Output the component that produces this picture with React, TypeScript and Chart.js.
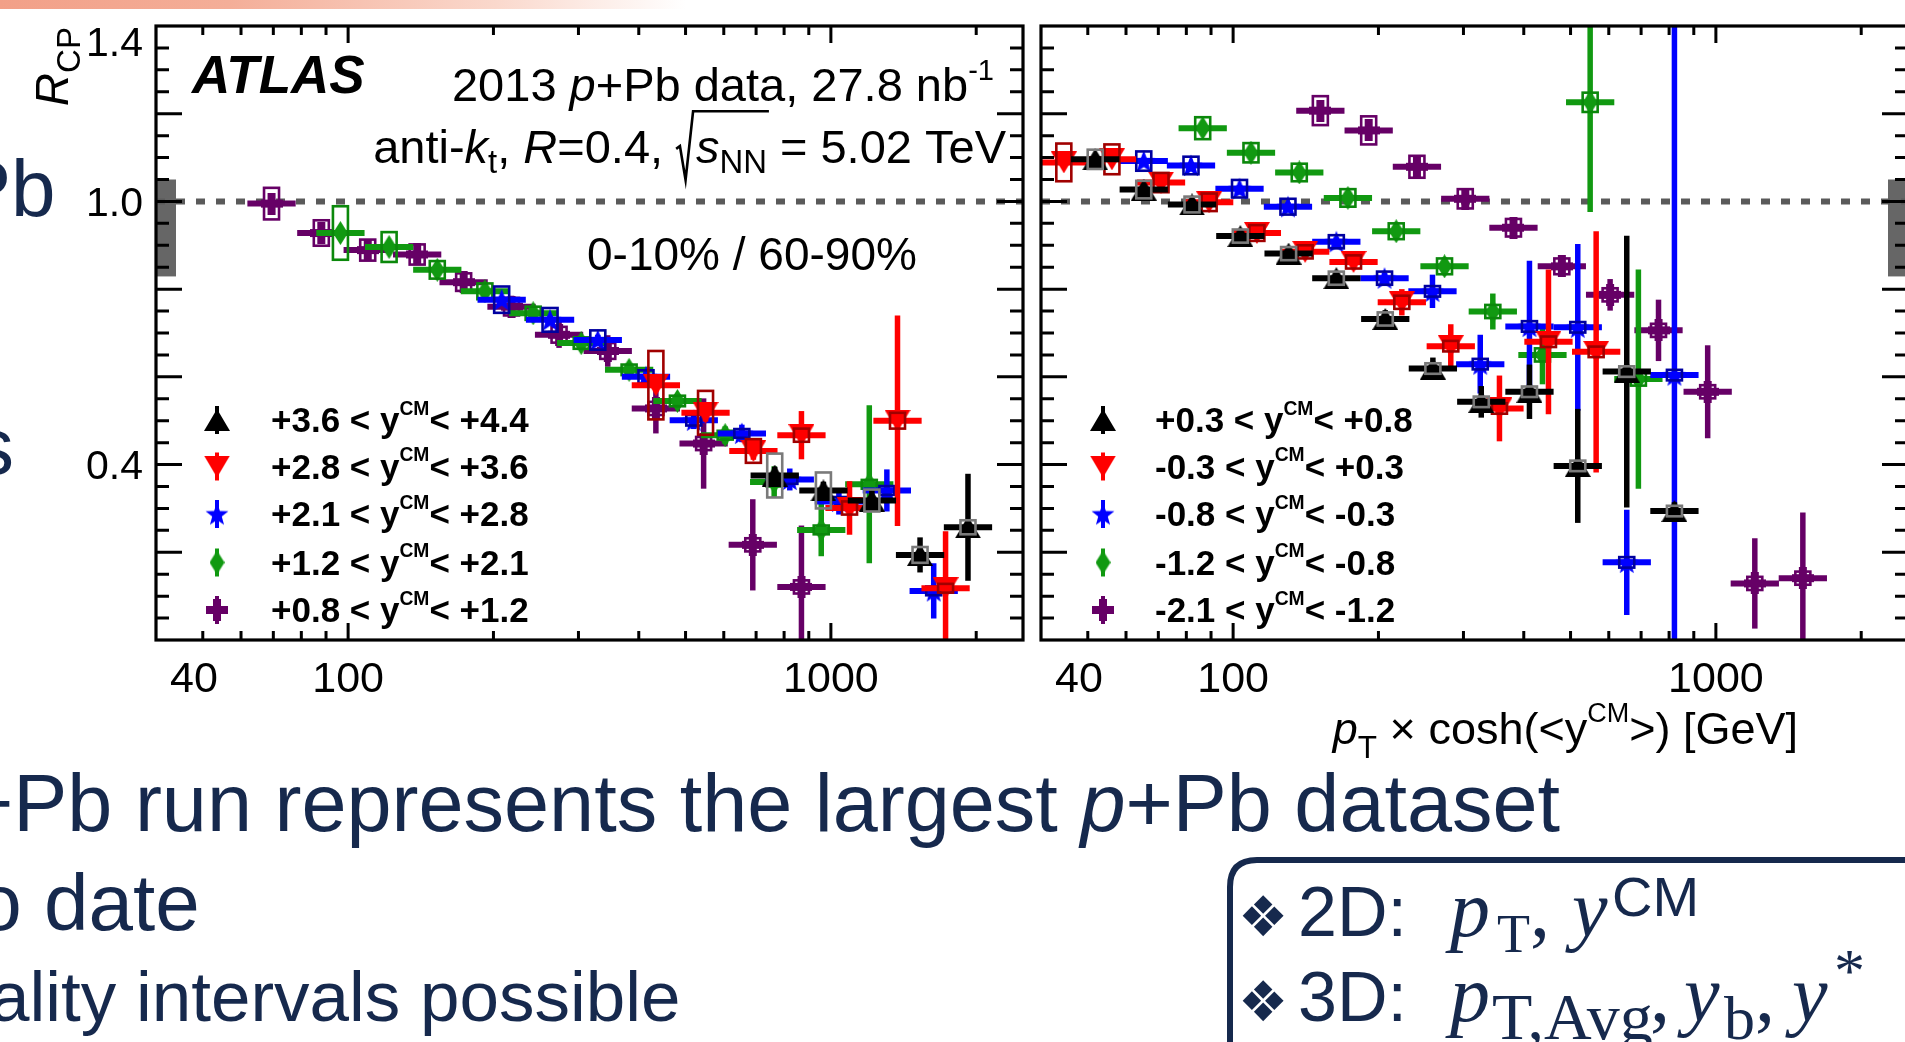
import React, { useEffect, useRef } from "react";
import { Chart, registerables } from "chart.js";

Chart.register(...registerables);

const NAVY = "#16294d";
const SANS = '"Liberation Sans", Arial, Helvetica, sans-serif';
const SERIF = '"Liberation Serif", "Times New Roman", serif';

// ---------- axes ----------
const X_RANGE = [40, 2500];
const Y_RANGE = [0, 1.4];
const X_LABELS = [40, 100, 1000];
const X_MAJOR = [100, 1000];
const X_MINOR = [50, 60, 70, 80, 90, 200, 300, 400, 500, 600, 700, 800, 900, 2000];
const Y_LABELS = ["0.4", "1.0", "1.4"];
const Y_MINOR_STEP = 0.05;
const Y_MAJOR_STEP = 0.2;
const NORM_BAND = [0.829, 1.05];
const REF_LINE = 1.0;
const BIN_HALF_DECADES = 0.05;

// ---------- legend ----------
const LEFT_RANGES = [["+3.6", "+4.4"], ["+2.8", "+3.6"], ["+2.1", "+2.8"], ["+1.2", "+2.1"], ["+0.8", "+1.2"]];
const RIGHT_RANGES = [["+0.3", "+0.8"], ["-0.3", "+0.3"], ["-0.8", "-0.3"], ["-1.2", "-0.8"], ["-2.1", "-1.2"]];

// ---------- left panel data (0-10% / 60-90%, forward) ----------
const L_BLACK_X = [765, 965, 1216, 1530, 1923];
const L_BLACK_Y = [0.375, 0.341, 0.318, 0.194, 0.257];
const L_BLACK_ERR = [0.02, 0.02, 0.025, 0.04, 0.122];
const L_BLACK_SYS = [0.05, 0.041, 0.025, 0.018, 0.016];

const L_RED_X = [434, 550, 691, 869, 1093, 1374, 1728];
const L_RED_Y = [0.581, 0.518, 0.431, 0.467, 0.301, 0.5, 0.118];
const L_RED_ERR = [0.015, 0.02, 0.02, 0.055, 0.061, 0.24, 0.13];
const L_RED_SYS = [0.078, 0.05, 0.027, 0.015, 0.015, 0.018, 0.01];

const L_BLUE_X = [208, 262, 329, 414, 520, 654, 822, 1039, 1306, 1633];
const L_BLUE_Y = [0.776, 0.73, 0.684, 0.6, 0.501, 0.471, 0.366, 0.316, 0.341, 0.112];
const L_BLUE_ERR = [0.008, 0.01, 0.012, 0.015, 0.02, 0.02, 0.025, 0.03, 0.048, 0.063];
const L_BLUE_SYS = [0.03, 0.027, 0.022, 0.015, 0.012, 0.01, 0.01, 0.01, 0.01, 0.01];

const L_GREEN_X = [96.4, 121.6, 153, 192, 241.7, 304, 382, 481, 604, 763, 955, 1201];
const L_GREEN_Y = [0.928, 0.896, 0.844, 0.795, 0.745, 0.677, 0.616, 0.545, 0.467, 0.36, 0.251, 0.355];
const L_GREEN_ERR = [0.01, 0.01, 0.008, 0.008, 0.008, 0.01, 0.012, 0.015, 0.02, 0.036, 0.06, 0.18];
const L_GREEN_SYS = [0.061, 0.034, 0.02, 0.018, 0.015, 0.013, 0.012, 0.012, 0.01, 0.01, 0.01, 0.01];

const L_PURPLE_X = [69.4, 88.0, 109.8, 139, 173.5, 218, 273.5, 345, 434, 545, 689, 869];
const L_PURPLE_Y = [0.995, 0.928, 0.889, 0.879, 0.816, 0.76, 0.696, 0.659, 0.528, 0.448, 0.217, 0.121];
const L_PURPLE_ERR = [0.01, 0.012, 0.012, 0.012, 0.02, 0.025, 0.03, 0.036, 0.057, 0.103, 0.104, 0.14];
const L_PURPLE_SYS = [0.036, 0.029, 0.024, 0.023, 0.02, 0.02, 0.018, 0.018, 0.015, 0.015, 0.015, 0.015];

// ---------- right panel data (backward / central) ----------
const R_BLACK_X = [51.8, 65.3, 82.2, 103.5, 130.3, 163.6, 206.6, 259.3, 326.6, 411, 517.5, 653.7, 820.6];
const R_BLACK_Y = [1.096, 1.027, 0.993, 0.921, 0.881, 0.825, 0.732, 0.619, 0.543, 0.566, 0.397, 0.612, 0.294];
const R_BLACK_ERR = [0.008, 0.01, 0.01, 0.01, 0.012, 0.015, 0.02, 0.025, 0.036, 0.062, 0.13, 0.31, 0.02];
const R_BLACK_SYS = [0.022, 0.02, 0.018, 0.015, 0.015, 0.015, 0.015, 0.012, 0.012, 0.012, 0.012, 0.012, 0.012];

const R_RED_X = [44.6, 56.1, 70.9, 89.2, 112, 141, 177.6, 223.6, 282.4, 356.2, 450, 564.9];
const R_RED_Y = [1.089, 1.096, 1.043, 0.998, 0.928, 0.885, 0.862, 0.77, 0.67, 0.528, 0.68, 0.657];
const R_RED_ERR = [0.01, 0.01, 0.01, 0.01, 0.01, 0.012, 0.015, 0.03, 0.05, 0.075, 0.165, 0.275];
const R_RED_SYS = [0.043, 0.034, 0.022, 0.02, 0.018, 0.015, 0.015, 0.015, 0.012, 0.012, 0.012, 0.012];

const R_BLUE_X = [65.3, 81.8, 103.1, 129.9, 163.6, 205.9, 258.8, 325, 411, 517.5, 653.7, 820.6];
const R_BLUE_Y = [1.092, 1.082, 1.029, 0.988, 0.908, 0.825, 0.795, 0.629, 0.715, 0.713, 0.177, 0.604];
const R_BLUE_ERR = [0.008, 0.008, 0.008, 0.01, 0.01, 0.012, 0.038, 0.067, 0.15, 0.19, 0.12, 0.85];
const R_BLUE_SYS = [0.022, 0.02, 0.02, 0.018, 0.015, 0.015, 0.012, 0.012, 0.012, 0.012, 0.012, 0.012];

const R_GREEN_X = [86.5, 108.9, 137.1, 172.9, 217.7, 274.1, 345.1, 437.3, 549, 691];
const R_GREEN_Y = [1.167, 1.111, 1.066, 1.008, 0.932, 0.852, 0.749, 0.65, 1.226, 0.595];
const R_GREEN_ERR = [0.012, 0.012, 0.012, 0.012, 0.015, 0.02, 0.041, 0.067, 0.25, 0.25];
const R_GREEN_SYS = [0.025, 0.022, 0.02, 0.02, 0.018, 0.018, 0.015, 0.015, 0.022, 0.015];

const R_PURPLE_X = [151.6, 190.9, 240.3, 302.6, 380.8, 479.6, 603.8, 760.6, 961.6, 1204, 1514];
const R_PURPLE_Y = [1.207, 1.162, 1.079, 1.006, 0.94, 0.852, 0.787, 0.706, 0.566, 0.129, 0.141];
const R_PURPLE_ERR = [0.01, 0.01, 0.012, 0.012, 0.015, 0.023, 0.036, 0.07, 0.106, 0.103, 0.15];
const R_PURPLE_SYS = [0.033, 0.032, 0.025, 0.022, 0.02, 0.018, 0.015, 0.015, 0.015, 0.015, 0.015];

// ---------- styles ----------
const SERIES_STYLE = [
  { kind: "up", color: "#000000", box: "#7a7a7a" },
  { kind: "down", color: "#ff0000", box: "#a00000" },
  { kind: "star", color: "#0000ff", box: "#0000a0" },
  { kind: "diamond", color: "#119911", box: "#0b880b" },
  { kind: "cross", color: "#660066", box: "#660066" },
];
const LEGEND_ROWS = [420, 466.5, 514, 562.5, 610];

type Series = { x: number[]; y: number[]; err: number[]; sys: number[] };

const LEFT_SERIES: Series[] = [
  { x: L_BLACK_X, y: L_BLACK_Y, err: L_BLACK_ERR, sys: L_BLACK_SYS },
  { x: L_RED_X, y: L_RED_Y, err: L_RED_ERR, sys: L_RED_SYS },
  { x: L_BLUE_X, y: L_BLUE_Y, err: L_BLUE_ERR, sys: L_BLUE_SYS },
  { x: L_GREEN_X, y: L_GREEN_Y, err: L_GREEN_ERR, sys: L_GREEN_SYS },
  { x: L_PURPLE_X, y: L_PURPLE_Y, err: L_PURPLE_ERR, sys: L_PURPLE_SYS },
];
const RIGHT_SERIES: Series[] = [
  { x: R_BLACK_X, y: R_BLACK_Y, err: R_BLACK_ERR, sys: R_BLACK_SYS },
  { x: R_RED_X, y: R_RED_Y, err: R_RED_ERR, sys: R_RED_SYS },
  { x: R_BLUE_X, y: R_BLUE_Y, err: R_BLUE_ERR, sys: R_BLUE_SYS },
  { x: R_GREEN_X, y: R_GREEN_Y, err: R_GREEN_ERR, sys: R_GREEN_SYS },
  { x: R_PURPLE_X, y: R_PURPLE_Y, err: R_PURPLE_ERR, sys: R_PURPLE_SYS },
];

function makeMarker(kind: string, color: string): HTMLCanvasElement {
  const c = document.createElement("canvas");
  if (kind === "up" || kind === "down") { c.width = 26; c.height = 22; }
  else if (kind === "star") { c.width = 24; c.height = 23; }
  else if (kind === "diamond") { c.width = 15; c.height = 24; }
  else { c.width = 22; c.height = 22; }
  const g = c.getContext("2d")!;
  g.fillStyle = color;
  g.beginPath();
  if (kind === "up") {
    g.moveTo(13, 0); g.lineTo(26, 22); g.lineTo(0, 22);
  } else if (kind === "down") {
    g.moveTo(0, 0); g.lineTo(26, 0); g.lineTo(13, 22);
  } else if (kind === "star") {
    const cx = 12, cy = 12.5, R = 12, r = 5;
    for (let k = 0; k < 10; k++) {
      const ang = -Math.PI / 2 + (k * Math.PI) / 5;
      const rr = k % 2 === 0 ? R : r;
      const px = cx + rr * Math.cos(ang), py = cy + rr * Math.sin(ang);
      if (k === 0) g.moveTo(px, py); else g.lineTo(px, py);
    }
  } else if (kind === "diamond") {
    g.moveTo(7.5, 0); g.lineTo(15, 12); g.lineTo(7.5, 24); g.lineTo(0, 12);
  } else {
    g.rect(0, 7, 22, 8); g.rect(7, 0, 8, 22);
  }
  g.closePath();
  g.fill();
  return c;
}

type Run = { t: string; it?: boolean; b?: boolean; sc?: number; dy?: number; w?: number };
function drawRuns(ctx: CanvasRenderingContext2D, runs: Run[], x: number, y: number, size: number, align: string) {
  const font = (r: Run) => `${r.it ? "italic " : ""}${r.b ? "bold " : ""}${(size * (r.sc ?? 1)).toFixed(1)}px ${SANS}`;
  const ws = runs.map((r) => {
    if (r.w != null) return r.w * size;
    ctx.font = font(r);
    return ctx.measureText(r.t).width;
  });
  const total = ws.reduce((a, b) => a + b, 0);
  let cx = align === "left" ? x : align === "right" ? x - total : x - total / 2;
  const xs: number[] = [];
  ctx.textAlign = "left";
  ctx.textBaseline = "alphabetic";
  runs.forEach((r, i) => {
    xs.push(cx);
    if (r.t) {
      ctx.font = font(r);
      ctx.fillText(r.t, cx, y + (r.dy ?? 0) * size);
    }
    cx += ws[i];
  });
  return { xs, ws };
}

type Panel = {
  side: string;
  series: Series[];
  ranges: string[][];
  offsetX: number; // page x of canvas
};

function makePlugin(panel: Panel, markers: HTMLCanvasElement[]) {
  const fac = Math.pow(10, BIN_HALF_DECADES);
  return {
    id: "panel_" + panel.side,
    beforeDatasetsDraw(chart: any) {
      const { ctx, chartArea: a, scales } = chart;
      const ys = scales.y;
      ctx.save();
      const yTop = ys.getPixelForValue(NORM_BAND[1]);
      const yBot = ys.getPixelForValue(NORM_BAND[0]);
      ctx.fillStyle = "#666666";
      const bx = panel.side === "left" ? a.left : a.right - 20;
      ctx.fillRect(bx, yTop, 20, yBot - yTop);
      ctx.strokeStyle = "#5a5a5a";
      ctx.lineWidth = 6;
      ctx.setLineDash([9, 11]);
      const py = ys.getPixelForValue(REF_LINE);
      ctx.beginPath();
      ctx.moveTo(a.left, py);
      ctx.lineTo(a.right, py);
      ctx.stroke();
      ctx.restore();
    },
    beforeDatasetDraw(chart: any, args: any) {
      const { ctx, chartArea: a, scales } = chart;
      const s = panel.series[args.index];
      const st = SERIES_STYLE[args.index];
      ctx.save();
      ctx.beginPath();
      ctx.rect(a.left, a.top, a.right - a.left, a.bottom - a.top);
      ctx.clip();
      ctx.strokeStyle = st.color;
      s.x.forEach((xv, i) => {
        const px = scales.x.getPixelForValue(xv);
        const py = scales.y.getPixelForValue(s.y[i]);
        ctx.lineWidth = 6;
        ctx.beginPath();
        ctx.moveTo(scales.x.getPixelForValue(xv / fac), py);
        ctx.lineTo(scales.x.getPixelForValue(xv * fac), py);
        ctx.stroke();
        ctx.lineWidth = 5.5;
        ctx.beginPath();
        ctx.moveTo(px, scales.y.getPixelForValue(s.y[i] + s.err[i]));
        ctx.lineTo(px, scales.y.getPixelForValue(s.y[i] - s.err[i]));
        ctx.stroke();
      });
      ctx.restore();
    },
    afterDatasetDraw(chart: any, args: any) {
      const { ctx, chartArea: a, scales } = chart;
      const s = panel.series[args.index];
      const st = SERIES_STYLE[args.index];
      ctx.save();
      ctx.beginPath();
      ctx.rect(a.left, a.top, a.right - a.left, a.bottom - a.top);
      ctx.clip();
      ctx.strokeStyle = st.box;
      ctx.lineWidth = 2.6;
      s.x.forEach((xv, i) => {
        const px = scales.x.getPixelForValue(xv);
        const t = scales.y.getPixelForValue(s.y[i] + s.sys[i]);
        const b = scales.y.getPixelForValue(s.y[i] - s.sys[i]);
        ctx.strokeRect(px - 7.5, t, 15, b - t);
      });
      ctx.restore();
    },
    afterDraw(chart: any) {
      const { ctx, chartArea: a, scales } = chart;
      const xs = scales.x, ys = scales.y;
      const ox = panel.offsetX;
      ctx.save();
      ctx.strokeStyle = "#000";
      ctx.fillStyle = "#000";
      // frame
      ctx.lineWidth = 3.2;
      ctx.strokeRect(a.left, a.top, a.right - a.left, a.bottom - a.top);
      // x ticks
      ctx.lineWidth = 3;
      const xt = (v: number, len: number) => {
        const p = xs.getPixelForValue(v);
        ctx.beginPath();
        ctx.moveTo(p, a.bottom); ctx.lineTo(p, a.bottom - len);
        ctx.moveTo(p, a.top); ctx.lineTo(p, a.top + len);
        ctx.stroke();
      };
      X_MAJOR.forEach((v) => xt(v, 17));
      X_MINOR.forEach((v) => xt(v, 9));
      // y ticks
      for (let k = 1; k * Y_MINOR_STEP < Y_RANGE[1] - 1e-6; k++) {
        const v = k * Y_MINOR_STEP;
        const major = Math.abs(v / Y_MAJOR_STEP - Math.round(v / Y_MAJOR_STEP)) < 1e-6;
        const len = major ? 26 : 13;
        const p = ys.getPixelForValue(v);
        ctx.beginPath();
        ctx.moveTo(a.left, p); ctx.lineTo(a.left + len, p);
        ctx.moveTo(a.right, p); ctx.lineTo(a.right - len, p);
        ctx.stroke();
      }
      // x tick labels
      X_LABELS.forEach((v, i) => {
        if (i === 0) drawRuns(ctx, [{ t: String(v) }], a.left + 14, 692, 43, "left");
        else drawRuns(ctx, [{ t: String(v) }], xs.getPixelForValue(v), 692, 43, "center");
      });
      // legend
      LEGEND_ROWS.forEach((ry, i) => {
        const st = SERIES_STYLE[i];
        const m = markers[i];
        const lx = (panel.side === "left" ? 217 : 1103) - ox;
        const tx = (panel.side === "left" ? 271 : 1155) - ox;
        ctx.strokeStyle = st.color;
        ctx.lineWidth = 4;
        ctx.beginPath();
        ctx.moveTo(lx, ry - 14); ctx.lineTo(lx, ry + 14);
        ctx.stroke();
        ctx.drawImage(m, lx - m.width / 2, ry - m.height / 2);
        ctx.fillStyle = "#000";
        const [lo, hi] = panel.ranges[i];
        drawRuns(ctx, [
          { t: `${lo} < y`, b: true },
          { t: "CM", b: true, sc: 0.55, dy: -0.5 },
          { t: `< ${hi}`, b: true },
        ], tx, ry + 12, 35, "left");
      });
      ctx.fillStyle = "#000";
      ctx.strokeStyle = "#000";
      if (panel.side === "left") {
        // y tick labels
        Y_LABELS.forEach((lab) => {
          const p = ys.getPixelForValue(parseFloat(lab));
          const cap = 41 * 0.716;
          const base = Math.max(p + cap / 2, a.top + cap + 1);
          drawRuns(ctx, [{ t: lab }], 143, base, 41, "right");
        });
        // y title
        ctx.save();
        ctx.translate(68, 27);
        ctx.rotate(-Math.PI / 2);
        drawRuns(ctx, [{ t: "R", it: true }, { t: "CP", sc: 0.72, dy: 0.25 }], 0, 0, 46, "right");
        ctx.restore();
        // labels
        drawRuns(ctx, [{ t: "ATLAS", it: true, b: true }], 192, 93, 53, "left");
        drawRuns(ctx, [
          { t: "2013 " }, { t: "p", it: true }, { t: "+Pb data, 27.8 nb" }, { t: "-1", sc: 0.62, dy: -0.45 },
        ], 994, 101, 47, "right");
        const S = 47, by = 163;
        const r = drawRuns(ctx, [
          { t: "anti-" }, { t: "k", it: true }, { t: "t", sc: 0.7, dy: 0.22 }, { t: ", " },
          { t: "R", it: true }, { t: "=0.4, " }, { t: "", w: 0.42 }, { t: "s", it: true },
          { t: "NN", sc: 0.7, dy: 0.22 }, { t: " = 5.02 TeV" },
        ], 1006, by, S, "right");
        const x0 = r.xs[6], xEnd = r.xs[8] + r.ws[8];
        ctx.lineWidth = 2.6;
        ctx.beginPath();
        ctx.moveTo(x0, by - 0.3 * S);
        ctx.lineTo(x0 + 0.08 * S, by - 0.36 * S);
        ctx.lineTo(x0 + 0.2 * S, by + 0.36 * S);
        ctx.lineTo(x0 + 0.36 * S, by - 1.1 * S);
        ctx.lineTo(xEnd + 2, by - 1.1 * S);
        ctx.stroke();
        drawRuns(ctx, [{ t: "0-10% / 60-90%" }], 587, 270, 46, "left");
      } else {
        drawRuns(ctx, [
          { t: "p", it: true }, { t: "T", sc: 0.7, dy: 0.3 }, { t: " \u00d7 cosh(<y" },
          { t: "CM", sc: 0.6, dy: -0.5 }, { t: ">) [GeV]" },
        ], 1798 - ox, 744, 45, "right");
      }
      ctx.restore();
    },
  };
}

function buildConfig(panel: Panel, markers: HTMLCanvasElement[], padding: any) {
  return {
    type: "scatter" as const,
    data: {
      datasets: panel.series.map((s, i) => ({
        label: panel.ranges[i].join(" < y < "),
        data: s.x.map((xv, k) => ({ x: xv, y: s.y[k] })),
        pointStyle: markers[i],
        pointRadius: 10,
        pointHoverRadius: 10,
        showLine: false,
        borderColor: SERIES_STYLE[i].color,
        backgroundColor: SERIES_STYLE[i].color,
      })),
    },
    options: {
      animation: false as const,
      responsive: false,
      events: [] as any[],
      layout: { padding },
      scales: {
        x: { type: "logarithmic" as const, min: X_RANGE[0], max: X_RANGE[1], display: false },
        y: { type: "linear" as const, min: Y_RANGE[0], max: Y_RANGE[1], display: false },
      },
      plugins: { legend: { display: false }, tooltip: { enabled: false }, title: { display: false } },
    },
    plugins: [makePlugin(panel, markers)],
  };
}

export default function App() {
  const leftRef = useRef<HTMLCanvasElement>(null);
  const rightRef = useRef<HTMLCanvasElement>(null);

  useEffect(() => {
    const markers = SERIES_STYLE.map((s) => makeMarker(s.kind, s.color));
    const left: Panel = { side: "left", series: LEFT_SERIES, ranges: LEFT_RANGES, offsetX: 0 };
    const right: Panel = { side: "right", series: RIGHT_SERIES, ranges: RIGHT_RANGES, offsetX: 1030 };
    const c1 = new Chart(leftRef.current!, buildConfig(left, markers, { left: 156, top: 26, right: 17, bottom: 140 }) as any);
    const c2 = new Chart(rightRef.current!, buildConfig(right, markers, { left: 11, top: 26, right: 22, bottom: 140 }) as any);
    return () => {
      c1.destroy();
      c2.destroy();
    };
  }, []);

  return (
    <div style={{ position: "fixed", left: 0, top: 0, width: 1905, height: 1042, overflow: "hidden", background: "#fff" }}>
      <svg width={1905} height={1042} style={{ position: "absolute", left: 0, top: 0 }}>
        <defs>
          <linearGradient id="topbar" x1="0" y1="0" x2="1" y2="0">
            <stop offset="0" stopColor="#f2a088" />
            <stop offset="0.12" stopColor="#f4ae98" />
            <stop offset="0.26" stopColor="#fad8cc" />
            <stop offset="0.36" stopColor="#ffffff" />
          </linearGradient>
        </defs>
        <rect x={0} y={0} width={1905} height={9} fill="url(#topbar)" />
        <g fill={NAVY} fontFamily={SANS}>
          <text x={-89} y={216} fontSize={80}>+Pb</text>
          <text x={-26} y={474} fontSize={80}>s</text>
          <text x={-34} y={831} fontSize={81}>
            +Pb run represents the largest <tspan fontStyle="italic">p</tspan>+Pb dataset
          </text>
          <text x={-45} y={930} fontSize={80}>to date</text>
          <text x={-10} y={1021} fontSize={71}>ality intervals possible</text>
          <path d="M1230 1060 V887 Q1230 860 1257 860 H1930" stroke={NAVY} strokeWidth={6} fill="none" />
          <text x={1238} y={936} fontSize={56} fontFamily='"DejaVu Sans", sans-serif'>{"\u2756"}</text>
          <text x={1298} y={936} fontSize={70}>2D:</text>
          <text y={936} fontFamily={SERIF} fontSize={80}>
            <tspan x={1450} fontStyle="italic">p</tspan>
            <tspan x={1497} dy={16} fontSize={54}>T</tspan>
            <tspan x={1530} dy={-16}>,</tspan>
            <tspan x={1572} fontStyle="italic">y</tspan>
            <tspan x={1612} dy={-20} fontSize={56} fontFamily={SANS}>CM</tspan>
          </text>
          <text x={1238} y={1021} fontSize={56} fontFamily='"DejaVu Sans", sans-serif'>{"\u2756"}</text>
          <text x={1298} y={1021} fontSize={70}>3D:</text>
          <text y={1021} fontFamily={SERIF} fontSize={80}>
            <tspan x={1450} fontStyle="italic">p</tspan>
            <tspan x={1492} dy={18} fontSize={66}>T,Avg</tspan>
            <tspan x={1650} dy={-18}>,</tspan>
            <tspan x={1684} fontStyle="italic">y</tspan>
            <tspan x={1724} dy={18} fontSize={62}>b</tspan>
            <tspan x={1755} dy={-18}>,</tspan>
            <tspan x={1792} fontStyle="italic">y</tspan>
            <tspan x={1834} dy={-30} fontSize={62}>*</tspan>
          </text>
        </g>
      </svg>
      <canvas ref={leftRef} width={1040} height={780} style={{ position: "absolute", left: 0, top: 0, width: 1040, height: 780 }} />
      <canvas ref={rightRef} width={900} height={780} style={{ position: "absolute", left: 1030, top: 0, width: 900, height: 780 }} />
    </div>
  );
}
